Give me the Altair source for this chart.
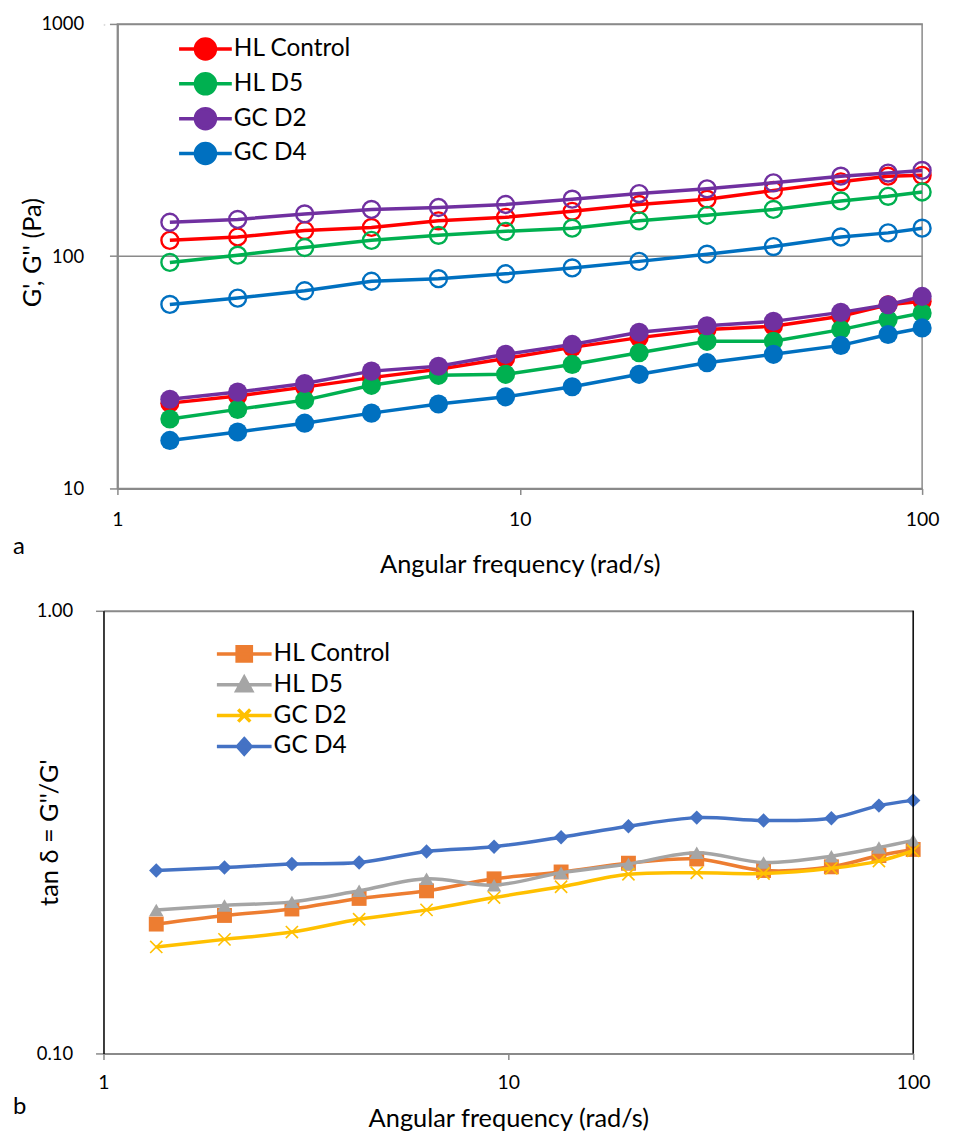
import altair as alt
import pandas as pd

FREQ = [1.35, 1.99, 2.92, 4.28, 6.28, 9.22, 13.5, 19.8, 29.2, 42.7, 62.8, 82.3, 100]
SERIES = ["HL Control", "HL D5", "GC D2", "GC D4"]

# G' (open circles)
GP_HL_CONTROL = [117, 121, 129, 133, 142, 147, 156, 167, 176, 192, 209, 221, 223]
GP_HL_D5 = [94, 101, 109, 117, 123, 128, 132, 142, 150, 159, 173, 181, 189]
GP_GC_D2 = [140, 144, 152, 159, 162, 167, 176, 186, 195, 207, 221, 228, 234]
GP_GC_D4 = [62, 66, 71, 78, 80, 84, 89, 95, 102, 110, 121, 126, 132]

# G'' (filled circles)
GPP_HL_CONTROL = [23.3, 25.0, 27.3, 30.0, 32.6, 36.3, 40.5, 44.6, 48.3, 49.9, 55.1, 61.8, 63.9]
GPP_HL_D5 = [19.9, 21.9, 24.0, 27.8, 30.7, 31.0, 34.2, 38.4, 43.0, 43.0, 48.3, 53.3, 56.9]
GPP_GC_D2 = [24.2, 26.0, 28.3, 32.0, 33.6, 37.8, 41.7, 47.0, 50.2, 52.4, 57.3, 61.8, 67.1]
GPP_GC_D4 = [16.1, 17.5, 19.1, 21.1, 23.1, 24.8, 27.4, 31.0, 34.8, 37.8, 41.3, 46.0, 49.1]

# tan delta
TAN_HL_CONTROL = [0.196, 0.205, 0.212, 0.224, 0.233, 0.248, 0.257, 0.269, 0.275, 0.259, 0.264, 0.280, 0.289]
TAN_HL_D5 = [0.211, 0.216, 0.220, 0.233, 0.248, 0.240, 0.256, 0.268, 0.284, 0.270, 0.279, 0.292, 0.303]
TAN_GC_D2 = [0.174, 0.181, 0.188, 0.201, 0.211, 0.225, 0.238, 0.254, 0.256, 0.255, 0.262, 0.272, 0.287]
TAN_GC_D4 = [0.259, 0.263, 0.268, 0.270, 0.286, 0.293, 0.308, 0.326, 0.341, 0.336, 0.340, 0.363, 0.373]

GP = dict(zip(SERIES, [GP_HL_CONTROL, GP_HL_D5, GP_GC_D2, GP_GC_D4]))
GPP = dict(zip(SERIES, [GPP_HL_CONTROL, GPP_HL_D5, GPP_GC_D2, GPP_GC_D4]))
TAN = dict(zip(SERIES, [TAN_HL_CONTROL, TAN_HL_D5, TAN_GC_D2, TAN_GC_D4]))

TOP_COLORS = ["#FF0000", "#00B050", "#7030A0", "#0070C0"]
BOT_COLORS = ["#ED7D31", "#A5A5A5", "#FFC000", "#4472C4"]

FONT = "Lato"
GRAY = "#8a8a8a"
TICK_FS = 18.5
TITLE_FS = 25.5
LEG_FS = 24.5

top_rows = []
for s in SERIES:
    for f, a, b in zip(FREQ, GP[s], GPP[s]):
        top_rows.append({"freq": f, "series": s, "kind": "storage", "value": a})
        top_rows.append({"freq": f, "series": s, "kind": "loss", "value": b})
top_df = pd.DataFrame(top_rows)

bot_rows = []
for s in SERIES:
    for f, t in zip(FREQ, TAN[s]):
        bot_rows.append({"freq": f, "sample": s, "tan": t})
bot_df = pd.DataFrame(bot_rows)

TOP_W, TOP_H = 809, 467
BOT_W, BOT_H = 814, 445


def x_enc(label_pad, title_pad):
    return alt.X(
        "freq:Q",
        scale=alt.Scale(type="log", domain=[1, 100], nice=False),
        axis=alt.Axis(
            values=[1, 10, 100], format="d", title="Angular frequency (rad/s)", grid=False,
            domainColor=GRAY, domainWidth=2, tickColor=GRAY, tickWidth=1.5, tickSize=6,
            labelFont=FONT, labelFontSize=TICK_FS + 1, labelColor="black", labelPadding=label_pad,
            titleFont=FONT, titleFontSize=TITLE_FS, titleFontWeight="normal", titleColor="black",
            titlePadding=title_pad, labelFlush=False,
        ),
    )


y_top = alt.Y(
    "value:Q",
    scale=alt.Scale(type="log", domain=[10, 1000], nice=False),
    axis=alt.Axis(
        values=[10, 100, 1000], format="d", title="G', G'' (Pa)", grid=True,
        gridColor=GRAY, gridWidth=1.5, domainColor=GRAY, domainWidth=2,
        tickColor=GRAY, tickWidth=1.5, tickSize=8,
        labelFont=FONT, labelFontSize=TICK_FS, labelColor="black", labelPadding=26,
        titleFont=FONT, titleFontSize=TITLE_FS, titleFontWeight="normal", titleColor="black",
        titleX=-85, titleY=TOP_H / 2 - 4, titleBaseline="middle", titleAngle=270,
    ),
)

y_bot = alt.Y(
    "tan:Q",
    scale=alt.Scale(type="log", domain=[0.1, 1], nice=False),
    axis=alt.Axis(
        values=[0.1, 1], format=".2f", title="tan δ = G''/G'", grid=True,
        gridColor=GRAY, gridWidth=2, domainColor="black", domainWidth=1.5,
        tickColor=GRAY, tickWidth=1.5, tickSize=8,
        labelFont=FONT, labelFontSize=TICK_FS, labelColor="black", labelPadding=23,
        titleFont=FONT, titleFontSize=TITLE_FS, titleFontWeight="normal", titleColor="black",
        titleX=-54, titleY=BOT_H / 2, titleBaseline="middle", titleAngle=270,
    ),
)

TOP_SYM = "M-1,0L1,0M-0.38,0A0.38,0.38,0,1,1,0.38,0A0.38,0.38,0,1,1,-0.38,0Z"
BOT_SYMS = [
    "M-1,0L1,0M-0.26,-0.26L0.26,-0.26L0.26,0.26L-0.26,0.26Z",
    "M-1,0L1,0M0,-0.27L0.27,0.22L-0.27,0.22Z",
    "M-1,0L1,0M-0.22,-0.22L0.22,0.22M-0.22,0.22L0.22,-0.22",
    "M-1,0L1,0M0,-0.28L0.25,0L0,0.28L-0.25,0Z",
]
X_PATH = "M-1,-1L1,1M-1,1L1,-1"

# ---------- top panel ----------
xt = x_enc(16, 24)
base_top = alt.Chart(top_df).encode(x=xt, y=y_top)
top_layers = []
for s, c in zip(SERIES, TOP_COLORS):
    d = base_top.transform_filter(alt.datum.series == s)
    top_layers.append(d.mark_line(color=c, strokeWidth=3.5).encode(detail="kind:N"))
    top_layers.append(
        d.transform_filter(alt.datum.kind == "storage").mark_point(
            shape="circle", filled=False, color=c, size=290, strokeWidth=2.4, opacity=1
        )
    )
    top_layers.append(
        d.transform_filter(alt.datum.kind == "loss").mark_point(
            shape="circle", filled=True, color=c, size=370, opacity=1
        )
    )

legend_top = alt.Legend(
    title=None, orient="none", legendX=74, legendY=8, direction="vertical",
    symbolType=TOP_SYM, symbolSize=2809, symbolStrokeWidth=3.5,
    labelFont=FONT, labelFontSize=LEG_FS, labelColor="black", labelOffset=0,
    clipHeight=34.5, rowPadding=0, padding=0,
)
top_scale = alt.Scale(domain=SERIES, range=TOP_COLORS)
leg_top_layer = alt.Chart(top_df).transform_filter("false").mark_point(
    shape=TOP_SYM, filled=True, opacity=1, strokeWidth=3.5
).encode(
    x=xt, y=y_top,
    fill=alt.Fill("series:N", scale=top_scale, legend=legend_top),
    stroke=alt.Stroke("series:N", scale=top_scale, legend=legend_top),
)
txt_a = alt.Chart(pd.DataFrame({"t": ["a"]})).mark_text(
    align="left", baseline="middle", font=FONT, fontSize=24, color="black"
).encode(text="t:N", x=alt.value(-105), y=alt.value(TOP_H + 59))

top = alt.layer(*top_layers, leg_top_layer, txt_a).properties(
    width=TOP_W, height=TOP_H, view=alt.ViewBackground(stroke=GRAY, strokeWidth=1.5)
)

# ---------- bottom panel ----------
xb = x_enc(14, 15)
base_bot = alt.Chart(bot_df).encode(x=xb, y=y_bot)
bot_layers = []
marks = [
    dict(shape="square", filled=True, size=225),
    dict(shape="triangle-up", filled=True, size=210),
    dict(shape=X_PATH, filled=False, size=150, strokeWidth=1.6),
    dict(shape="diamond", filled=True, size=210),
]
for s, c, m in zip(SERIES, BOT_COLORS, marks):
    d = base_bot.transform_filter(alt.datum.sample == s)
    bot_layers.append(d.mark_line(color=c, strokeWidth=3.5, interpolate="catmull-rom"))
    bot_layers.append(d.mark_point(color=c, opacity=1, **m))

legend_bot = alt.Legend(
    title=None, orient="none", legendX=112, legendY=28, direction="vertical",
    symbolSize=3025, symbolStrokeWidth=3.5,
    labelFont=FONT, labelFontSize=LEG_FS, labelColor="black", labelOffset=0,
    clipHeight=30.7, rowPadding=0, padding=0,
)
bot_scale = alt.Scale(domain=SERIES, range=BOT_COLORS)
leg_bot_layer = alt.Chart(bot_df).transform_filter("false").mark_point(
    filled=True, opacity=1, strokeWidth=3.5
).encode(
    x=xb, y=y_bot,
    fill=alt.Fill("sample:N", scale=bot_scale, legend=legend_bot),
    stroke=alt.Stroke("sample:N", scale=bot_scale, legend=legend_bot),
    shape=alt.Shape("sample:N", scale=alt.Scale(domain=SERIES, range=BOT_SYMS), legend=legend_bot),
)
right_border = alt.Chart(pd.DataFrame({"f": [100]})).mark_rule(
    color="black", strokeWidth=1.5
).encode(x=alt.X("f:Q", scale=alt.Scale(type="log", domain=[1, 100], nice=False)))
txt_b = alt.Chart(pd.DataFrame({"t": ["b"]})).mark_text(
    align="left", baseline="middle", font=FONT, fontSize=24, color="black"
).encode(text="t:N", x=alt.value(-91), y=alt.value(BOT_H + 54))

bottom = alt.layer(*bot_layers, right_border, leg_bot_layer, txt_b).properties(
    width=BOT_W, height=BOT_H
)

spacer = alt.Chart(pd.DataFrame({"t": [""]})).mark_text().encode(
    text="t:N", x=alt.value(0), y=alt.value(0)
).properties(width=1, height=1)

top_row = alt.HConcatChart(hconcat=[spacer, top], spacing=13, bounds="flush")

chart = alt.VConcatChart(
    vconcat=[top_row, bottom], spacing=22,
    padding={"left": 4, "top": 3, "right": 5, "bottom": 2},
).resolve_scale(
    fill="independent", stroke="independent", shape="independent"
).resolve_legend(
    fill="independent", stroke="independent", shape="independent"
).configure_view(stroke=None).configure(background="white")

chart.save("out.html", embed_options={"renderer": "svg", "actions": False})
